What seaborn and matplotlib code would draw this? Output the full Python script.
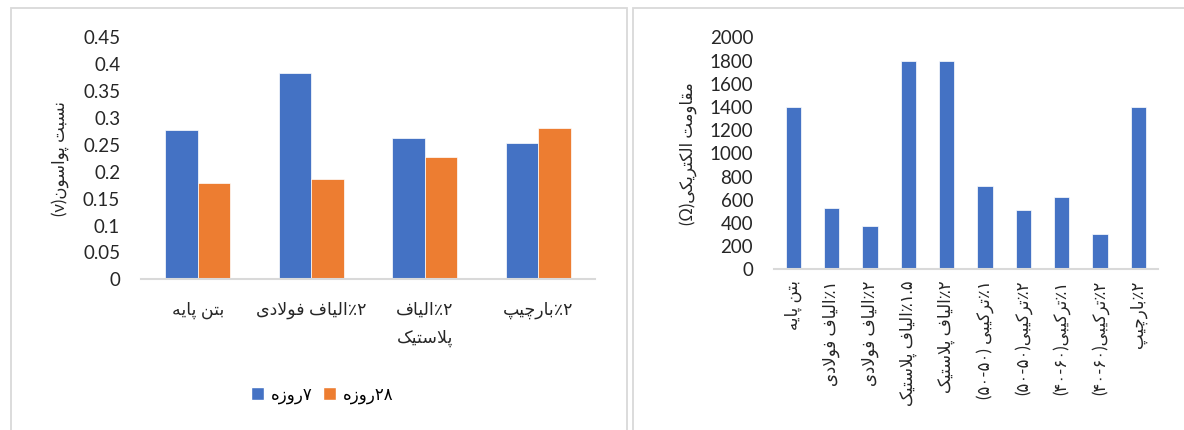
import matplotlib
matplotlib.use("Agg")
import matplotlib.pyplot as plt
import pandas as pd
import seaborn as sns
from matplotlib.patches import Rectangle, Patch

# ---- data -------------------------------------------------------------
poisson_categories = ["بتن پایه", "۲٪الیاف فولادی", "۲٪الیاف\nپلاستیک", "۲٪بارچیپ"]
poisson_series = ["۷روزه", "۲۸روزه"]
poisson_7d = [0.277, 0.383, 0.263, 0.254]
poisson_28d = [0.179, 0.186, 0.228, 0.281]
poisson_ticks = [0, 0.05, 0.1, 0.15, 0.2, 0.25, 0.3, 0.35, 0.4, 0.45]
poisson_tick_labels = ["0", "0.05", "0.1", "0.15", "0.2", "0.25", "0.3", "0.35", "0.4", "0.45"]
poisson_ylabel = "نسبت پواسون(ν)"

resistance_categories = [
    "بتن پایه",
    "۱٪الیاف فولادی",
    "۲٪الیاف فولادی",
    "۱.۵٪الیاف پلاستیک",
    "۲٪الیاف پلاستیک",
    "۱٪ترکیبی (۵۰-۵۰)",
    "۲٪ترکیبی(۵۰-۵۰)",
    "۱٪ترکیبی(۴۰-۶۰)",
    "۲٪ترکیبی(۴۰-۶۰)",
    "۲٪بارچیپ",
]
resistance_values = [1400, 530, 370, 1800, 1800, 722, 511, 621, 302, 1400]
resistance_ticks = [0, 200, 400, 600, 800, 1000, 1200, 1400, 1600, 1800, 2000]
resistance_ylabel = "مقاومت الکتریکی(Ω)"

BLUE = "#4472C4"
ORANGE = "#ED7D31"
AXIS_GREY = "#D9D9D9"

# ---- minimal Persian shaping + right-to-left ordering -----------------
FORMS = {
    "ا": ("\uFE8D", "\uFE8E", None, None),
    "ب": ("\uFE8F", "\uFE90", "\uFE91", "\uFE92"),
    "پ": ("\uFB56", "\uFB57", "\uFB58", "\uFB59"),
    "ت": ("\uFE95", "\uFE96", "\uFE97", "\uFE98"),
    "چ": ("\uFB7A", "\uFB7B", "\uFB7C", "\uFB7D"),
    "د": ("\uFEA9", "\uFEAA", None, None),
    "ر": ("\uFEAD", "\uFEAE", None, None),
    "ز": ("\uFEAF", "\uFEB0", None, None),
    "س": ("\uFEB1", "\uFEB2", "\uFEB3", "\uFEB4"),
    "ف": ("\uFED1", "\uFED2", "\uFED3", "\uFED4"),
    "ق": ("\uFED5", "\uFED6", "\uFED7", "\uFED8"),
    "ک": ("\uFB8E", "\uFB8F", "\uFB90", "\uFB91"),
    "ل": ("\uFEDD", "\uFEDE", "\uFEDF", "\uFEE0"),
    "م": ("\uFEE1", "\uFEE2", "\uFEE3", "\uFEE4"),
    "ن": ("\uFEE5", "\uFEE6", "\uFEE7", "\uFEE8"),
    "ه": ("\uFEE9", "\uFEEA", "\uFEEB", "\uFEEC"),
    "و": ("\uFEED", "\uFEEE", None, None),
    "ی": ("\uFBFC", "\uFBFD", "\uFBFE", "\uFBFF"),
}
LAM_ALEF = ("\uFEFB", "\uFEFC")
MIRROR = {"(": ")", ")": "("}
DIGITS = "۰۱۲۳۴۵۶۷۸۹0123456789"


def _dual(c):
    return c in FORMS and FORMS[c][2] is not None


def _shape(s):
    out, i, n = [], 0, len(s)
    while i < n:
        c = s[i]
        if c not in FORMS:
            out.append(c)
            i += 1
            continue
        prev_joins = i > 0 and _dual(s[i - 1])
        if c == "ل" and i + 1 < n and s[i + 1] == "ا":
            out.append(LAM_ALEF[1 if prev_joins else 0])
            i += 2
            continue
        next_joins = _dual(c) and i + 1 < n and s[i + 1] in FORMS
        iso, fin, ini, med = FORMS[c]
        if prev_joins and next_joins:
            out.append(med)
        elif prev_joins:
            out.append(fin)
        elif next_joins:
            out.append(ini)
        else:
            out.append(iso)
        i += 1
    return out


def fa(text):
    lines = []
    for line in text.split("\n"):
        runs, i = [], 0
        while i < len(line):
            j = i
            if line[i] in DIGITS:
                while j < len(line) and (
                    line[j] in DIGITS
                    or (line[j] in ".-" and j + 1 < len(line) and line[j + 1] in DIGITS)
                ):
                    j += 1
                runs.append(("ltr", line[i:j]))
            else:
                while j < len(line) and line[j] not in DIGITS:
                    j += 1
                runs.append(("rtl", line[i:j]))
            i = j
        vis = []
        for kind, seg in reversed(runs):
            if kind == "ltr":
                vis.append(seg)
            else:
                vis.append("".join(MIRROR.get(c, c) for c in reversed(_shape(seg))))
        lines.append("".join(vis))
    return "\n".join(lines)


# ---- figure -------------------------------------------------------------
sns.set_style("white")
plt.rcParams["font.family"] = ["Lato", "DejaVu Sans"]
plt.rcParams["text.color"] = "black"

W, H = 1184, 430
fig = plt.figure(figsize=(W / 100, H / 100), dpi=100)


def px_axes(x0, x1, y_top, y_bottom):
    return fig.add_axes([x0 / W, (H - y_bottom) / H, (x1 - x0) / W, (y_bottom - y_top) / H])


# panel frames
fig.add_artist(Rectangle((10.5 / W, -0.1), (627 - 10.5) / W, (H - 8.3) / H + 0.1,
                         transform=fig.transFigure, fill=False, edgecolor=AXIS_GREY, lw=1.3))
fig.add_artist(Rectangle((633 / W, -0.1), 0.6, (H - 8.3) / H + 0.1,
                         transform=fig.transFigure, fill=False, edgecolor=AXIS_GREY, lw=1.3))


def style_axes(ax):
    for side in ("top", "left", "right"):
        ax.spines[side].set_visible(False)
    ax.spines["bottom"].set_color(AXIS_GREY)
    ax.spines["bottom"].set_linewidth(1.5)
    ax.tick_params(length=0)
    ax.grid(False)
    ax.set_xlabel("")


# left: Poisson ratio, grouped bars
poisson_df = pd.DataFrame({
    "category": poisson_categories * 2,
    "series": [poisson_series[0]] * 4 + [poisson_series[1]] * 4,
    "value": poisson_7d + poisson_28d,
})
ax1 = px_axes(141, 595, 37.3, 279.3)
sns.barplot(data=poisson_df, x="category", y="value", hue="series",
            palette=[BLUE, ORANGE], saturation=1, width=0.575, gap=0, legend=False,
            edgecolor="white", linewidth=0.5, ax=ax1)
style_axes(ax1)
ax1.set_ylim(0, 0.45)
ax1.set_yticks(poisson_ticks)
ax1.set_yticklabels(poisson_tick_labels, fontsize=13.5)
ax1.tick_params(axis="y", pad=15)
ax1.set_xticks(range(len(poisson_categories)))
ax1.set_xticklabels([fa(c) for c in poisson_categories], fontsize=12.5,
                    linespacing=1.95, multialignment="center")
ax1.tick_params(axis="x", pad=16)
ax1.set_ylabel(fa(poisson_ylabel), fontsize=12)
ax1.yaxis.set_label_coords(-0.159, 0.5)

ax1.legend(handles=[Patch(facecolor=BLUE), Patch(facecolor=ORANGE)],
           labels=[fa(s) for s in poisson_series], loc="center",
           bbox_to_anchor=(322 / W, (H - 395) / H), bbox_transform=fig.transFigure,
           ncol=2, frameon=False, fontsize=12, handlelength=0.8, handleheight=0.8,
           handletextpad=0.4, columnspacing=0.6)

# right: electrical resistance
resistance_df = pd.DataFrame({"category": resistance_categories, "value": resistance_values})
ax2 = px_axes(774, 1157.7, 37.3, 269.3)
sns.barplot(data=resistance_df, x="category", y="value", color=BLUE, width=0.4,
            edgecolor="white", linewidth=0.5, saturation=1, ax=ax2)
style_axes(ax2)
ax2.set_ylim(0, 2000)
ax2.set_yticks(resistance_ticks)
ax2.set_yticklabels([str(t) for t in resistance_ticks], fontsize=13.5)
ax2.tick_params(axis="y", pad=15)
ax2.set_xticks(range(len(resistance_categories)))
ax2.set_xticklabels([fa(c) for c in resistance_categories], fontsize=12, rotation=90)
ax2.tick_params(axis="x", pad=8)
ax2.set_ylabel(fa(resistance_ylabel), fontsize=12)
ax2.yaxis.set_label_coords(-0.20, 0.5)

fig.savefig("out.png", dpi=100, facecolor="white")
